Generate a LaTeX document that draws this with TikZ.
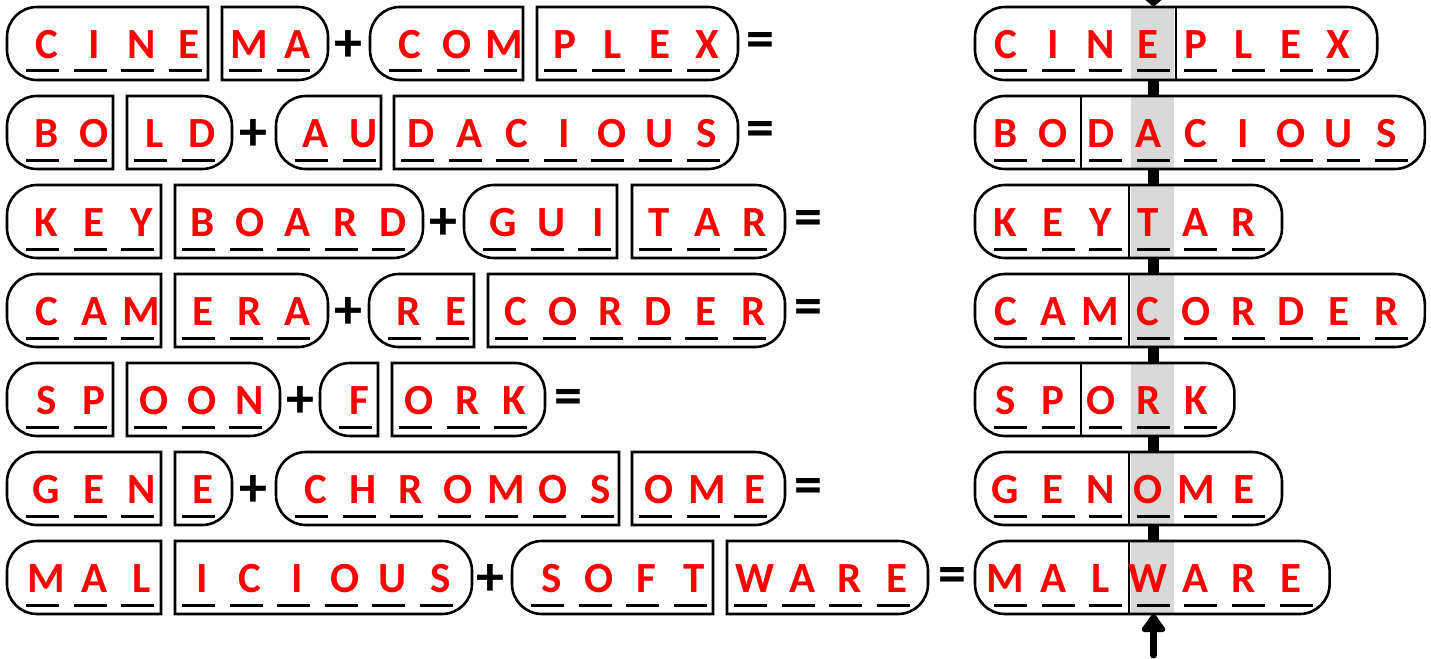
\documentclass[tikz,border=0pt]{standalone}
\usepackage{fontspec}
\newfontfamily\carlitofont{Carlito}
\usetikzlibrary{arrows.meta}
\definecolor{lred}{HTML}{FF0000}
\definecolor{shadegray}{HTML}{D9D9D9}
\tikzset{
  boxline/.style={line width=2.6pt, draw=black},
  uline/.style={line width=3pt, black},
  letter/.style={text=lred, font=\carlitofont\bfseries\fontsize{43}{43}\selectfont, inner sep=0pt, anchor=base},
  opsign/.style={font=\carlitofont\bfseries\fontsize{56}{56}\selectfont, inner sep=0pt, anchor=center},
  divline/.style={line width=2pt, black},
  barline/.style={line width=11pt, black},
}
% box paths: #1 L, #2 T, #3 R, #4 options (height 73, corner radius 30)
\newcommand\boxRR[4]{\path[#4] ({#1+30},#2) arc[start angle=270,end angle=180,radius=30] -- (#1,{#2+43}) arc[start angle=180,end angle=90,radius=30] -- ({#3-30},{#2+73}) arc[start angle=90,end angle=0,radius=30] -- (#3,{#2+30}) arc[start angle=0,end angle=-90,radius=30] -- cycle;}
\newcommand\boxRS[4]{\path[#4] ({#1+30},#2) arc[start angle=270,end angle=180,radius=30] -- (#1,{#2+43}) arc[start angle=180,end angle=90,radius=30] -- (#3,{#2+73}) -- (#3,#2) -- cycle;}
\newcommand\boxSR[4]{\path[#4] (#1,#2) -- (#1,{#2+73}) -- ({#3-30},{#2+73}) arc[start angle=90,end angle=0,radius=30] -- (#3,{#2+30}) arc[start angle=0,end angle=-90,radius=30] -- cycle;}
% letters with underscores: #1 name, #2 first underscore x, #3 T, #4 letter offset, #5 letters
\newcommand\letterslots[5]{%
  \foreach \ch [count=\i from 0] in {#5} {
    \draw[uline] ({#2+\i*47.6},{#3+64}) -- ({#2+\i*47.6+33},{#3+64});
    \node[letter] (#1-\i) at ({#2+\i*47.6+16.5+#4},{#3+51.5}) {\ch};
  }}
% left-column words: #1 name, #2 L, #3 R, #4 T, #5 letters
\newcommand\lwordRS[5]{\boxRS{#2}{#4}{#3}{boxline,fill=white}\letterslots{#1}{#2+19}{#4}{4}{#5}}
\newcommand\lwordSR[5]{\boxSR{#2}{#4}{#3}{boxline,fill=white}\letterslots{#1}{#2+7}{#4}{4}{#5}}
% right-column words: #1 name, #2 T, #3 number of letters, #4 divider slot, #5 letters
\newcommand\rword[5]{%
  \pgfmathsetmacro\rrx{975+69+(#3-1)*47.6}
  \boxRR{975}{#2}{\rrx}{fill=white}
  \fill[shadegray] (1131,{#2+1}) rectangle (1174,{#2+72});
  \draw[divline] ({986+#4*47.6},#2) -- ({986+#4*47.6},{#2+73});
  \boxRR{975}{#2}{\rrx}{boxline}
  \letterslots{#1}{994}{#2}{-5}{#5}}

\begin{document}
\begin{tikzpicture}[x=1pt,y=-1pt]
\useasboundingbox (0,0) rectangle (1431,658);
\clip (0,0) rectangle (1431,658);

% vertical bar behind the right column
\coordinate (bartop) at (1153.5,7);
\coordinate (barbot) at (1153.5,614);
\coordinate (topstart) at (1153.5,-40);
\coordinate (arrtail) at (1153.5,655);
\draw[barline] (bartop) -- (barbot);
\draw[line width=11pt, -{Triangle[length=16pt,width=36pt]}] (topstart) -- (bartop);

% row 0
\lwordRS{cine}{7}{208}{7}{C,I,N,E}
\lwordSR{ma}{222}{328}{7}{M,A}
\node[opsign] (p0) at (348,45.5) {+};
\lwordRS{com}{370}{523}{7}{C,O,M}
\lwordSR{plex}{537}{738}{7}{P,L,E,X}
\node[opsign] (e0) at (760,45.5) {=};
\rword{cineplex}{7}{8}{4}{C,I,N,E,P,L,E,X}

% row 1
\lwordRS{bo}{7}{113}{96}{B,O}
\lwordSR{ld}{127}{232}{96}{L,D}
\node[opsign] (p1) at (253,134.5) {+};
\lwordRS{au}{276}{381}{96}{A,U}
\lwordSR{dacious}{394}{738}{96}{D,A,C,I,O,U,S}
\node[opsign] (e1) at (760,134.5) {=};
\rword{bodacious}{96}{9}{2}{B,O,D,A,C,I,O,U,S}

% row 2
\lwordRS{key}{7}{161}{185}{K,E,Y}
\lwordSR{board}{175}{423}{185}{B,O,A,R,D}
\node[opsign] (p2) at (443,223.5) {+};
\lwordRS{gui}{464}{617}{185}{G,U,I}
\lwordSR{tar}{632}{785}{185}{T,A,R}
\node[opsign] (e2) at (808,223.5) {=};
\rword{keytar}{185}{6}{3}{K,E,Y,T,A,R}

% row 3
\lwordRS{cam}{7}{161}{274}{C,A,M}
\lwordSR{era}{175}{328}{274}{E,R,A}
\node[opsign] (p3) at (348,312.5) {+};
\lwordRS{re}{369}{474}{274}{R,E}
\lwordSR{corder}{488}{785}{274}{C,O,R,D,E,R}
\node[opsign] (e3) at (808,312.5) {=};
\rword{camcorder}{274}{9}{3}{C,A,M,C,O,R,D,E,R}

% row 4
\lwordRS{sp}{7}{113}{363}{S,P}
\lwordSR{oon}{127}{280}{363}{O,O,N}
\node[opsign] (p4) at (300,401.5) {+};
\lwordRS{f}{320}{378}{363}{F}
\lwordSR{ork}{392}{545}{363}{O,R,K}
\node[opsign] (e4) at (568,401.5) {=};
\rword{spork}{363}{5}{2}{S,P,O,R,K}

% row 5
\lwordRS{gen}{7}{161}{452}{G,E,N}
\lwordSR{e}{175}{232}{452}{E}
\node[opsign] (p5) at (253,490.5) {+};
\lwordRS{chromos}{276}{619}{452}{C,H,R,O,M,O,S}
\lwordSR{ome}{632}{785}{452}{O,M,E}
\node[opsign] (e5) at (808,490.5) {=};
\rword{genome}{452}{6}{3}{G,E,N,O,M,E}

% row 6
\lwordRS{mal}{7}{161}{541}{M,A,L}
\lwordSR{icious}{175}{472}{541}{I,C,I,O,U,S}
\node[opsign] (p6) at (490,579.5) {+};
\lwordRS{soft}{512}{713}{541}{S,O,F,T}
\lwordSR{ware}{727}{928}{541}{W,A,R,E}
\node[opsign] (e6) at (952,579.5) {=};
\rword{malware}{541}{7}{3}{M,A,L,W,A,R,E}

% bottom arrow
\draw[line width=7pt, line cap=round, -{Triangle[length=20pt,width=27pt,round]}] (arrtail) -- (barbot);
\end{tikzpicture}
\end{document}
